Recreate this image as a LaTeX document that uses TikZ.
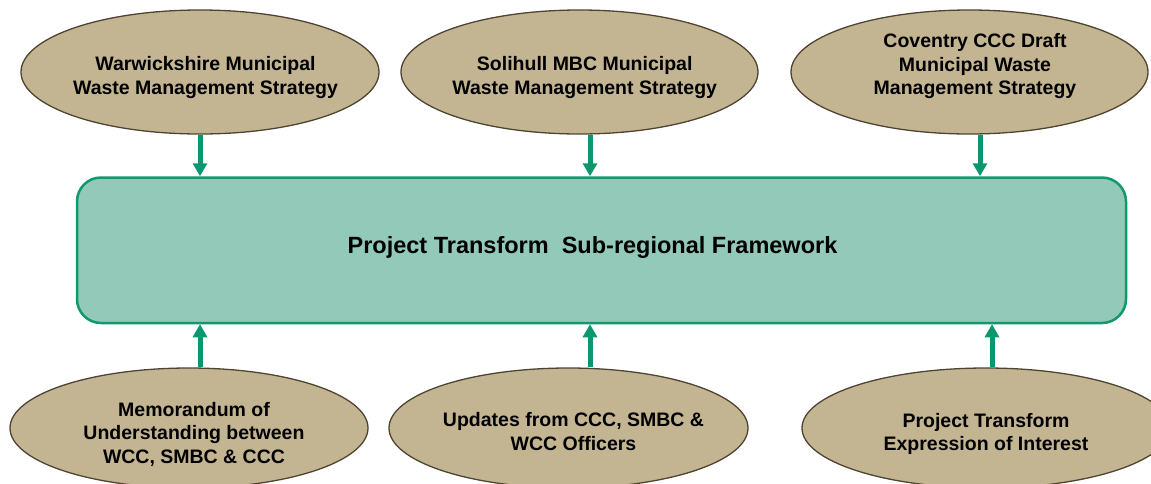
\documentclass[tikz,border=0pt]{standalone}
\usepackage{fontspec}
\setmainfont{Liberation Sans}
\usetikzlibrary{arrows.meta,shapes.geometric}
\definecolor{ovalfill}{HTML}{C4B592}
\definecolor{ovalline}{HTML}{4E4431}
\definecolor{boxfill}{HTML}{93C9B9}
\definecolor{boxline}{HTML}{12986F}
\definecolor{arrgreen}{HTML}{0A966E}
\begin{document}
\begin{tikzpicture}[x=1pt,y=-1pt,
  oval/.style={ellipse,draw=ovalline,fill=ovalfill,line width=1.3pt,inner sep=0pt,minimum height=#1},
  oval/.default=124pt,
  ovaltext/.style={align=center,inner sep=0pt,font=\bfseries\fontsize{19.5pt}{23.5pt}\selectfont},
  mainbox/.style={draw=boxline,fill=boxfill,line width=2.5pt,rounded corners=24pt,inner sep=0pt,
    minimum width=1049pt,minimum height=145.5pt},
  maintext/.style={inner sep=0pt,font=\bfseries\fontsize{23.5pt}{28pt}\selectfont},
  arr/.style={draw=arrgreen,line width=5pt,-{Triangle[width=14pt,length=13pt]}}]
\useasboundingbox (0,0) rectangle (1151,483);
\clip (0,0) rectangle (1151,483);
% central box
\node[mainbox] (box) at (601.5,250.25) {};
\node[maintext,anchor=base] (mt) at (592.5,253) {Project Transform~~Sub-regional Framework};
% top ovals
\node[oval,minimum width=358pt] (t1) at (200,72) {};
\node[oval,minimum width=357pt] (t2) at (579.5,72) {};
\node[oval,minimum width=357pt] (t3) at (969.5,72) {};
\node[ovaltext] (lt1) at (205.5,77.4) {Warwickshire Municipal\\Waste Management Strategy};
\node[ovaltext] (lt2) at (584.7,77.4) {Solihull MBC Municipal\\Waste Management Strategy};
\node[ovaltext] (lt3) at (975,66.4) {Coventry CCC Draft\\Municipal Waste\\Management Strategy};
% bottom ovals
\node[oval=120pt,minimum width=358pt] (b1) at (189,428) {};
\node[oval=120pt,minimum width=359pt] (b2) at (568.5,428) {};
\node[oval=120pt,minimum width=368pt] (b3) at (986,428) {};
\node[ovaltext] (lb1) at (194,434.2) {Memorandum of\\Understanding between\\WCC, SMBC \& CCC};
\node[ovaltext] (lb2) at (573.5,431.7) {Updates from CCC, SMBC \&\\WCC Officers};
\node[ovaltext] (lb3) at (986,433.7) {Project Transform\\Expression of Interest};
% arrows
\draw[arr] (t1.south) -- (t1.south |- box.north);
\draw[arr] ([xshift=10.5pt]t2.south) -- ([xshift=10.5pt]t2.south |- box.north);
\draw[arr] ([xshift=10.5pt]t3.south) -- ([xshift=10.5pt]t3.south |- box.north);
\draw[arr] ([xshift=11pt]b1.north) -- ([xshift=11pt]b1.north |- box.south);
\draw[arr] ([xshift=21.5pt]b2.north) -- ([xshift=21.5pt]b2.north |- box.south);
\draw[arr] ([xshift=6pt]b3.north) -- ([xshift=6pt]b3.north |- box.south);
\end{tikzpicture}
\end{document}
